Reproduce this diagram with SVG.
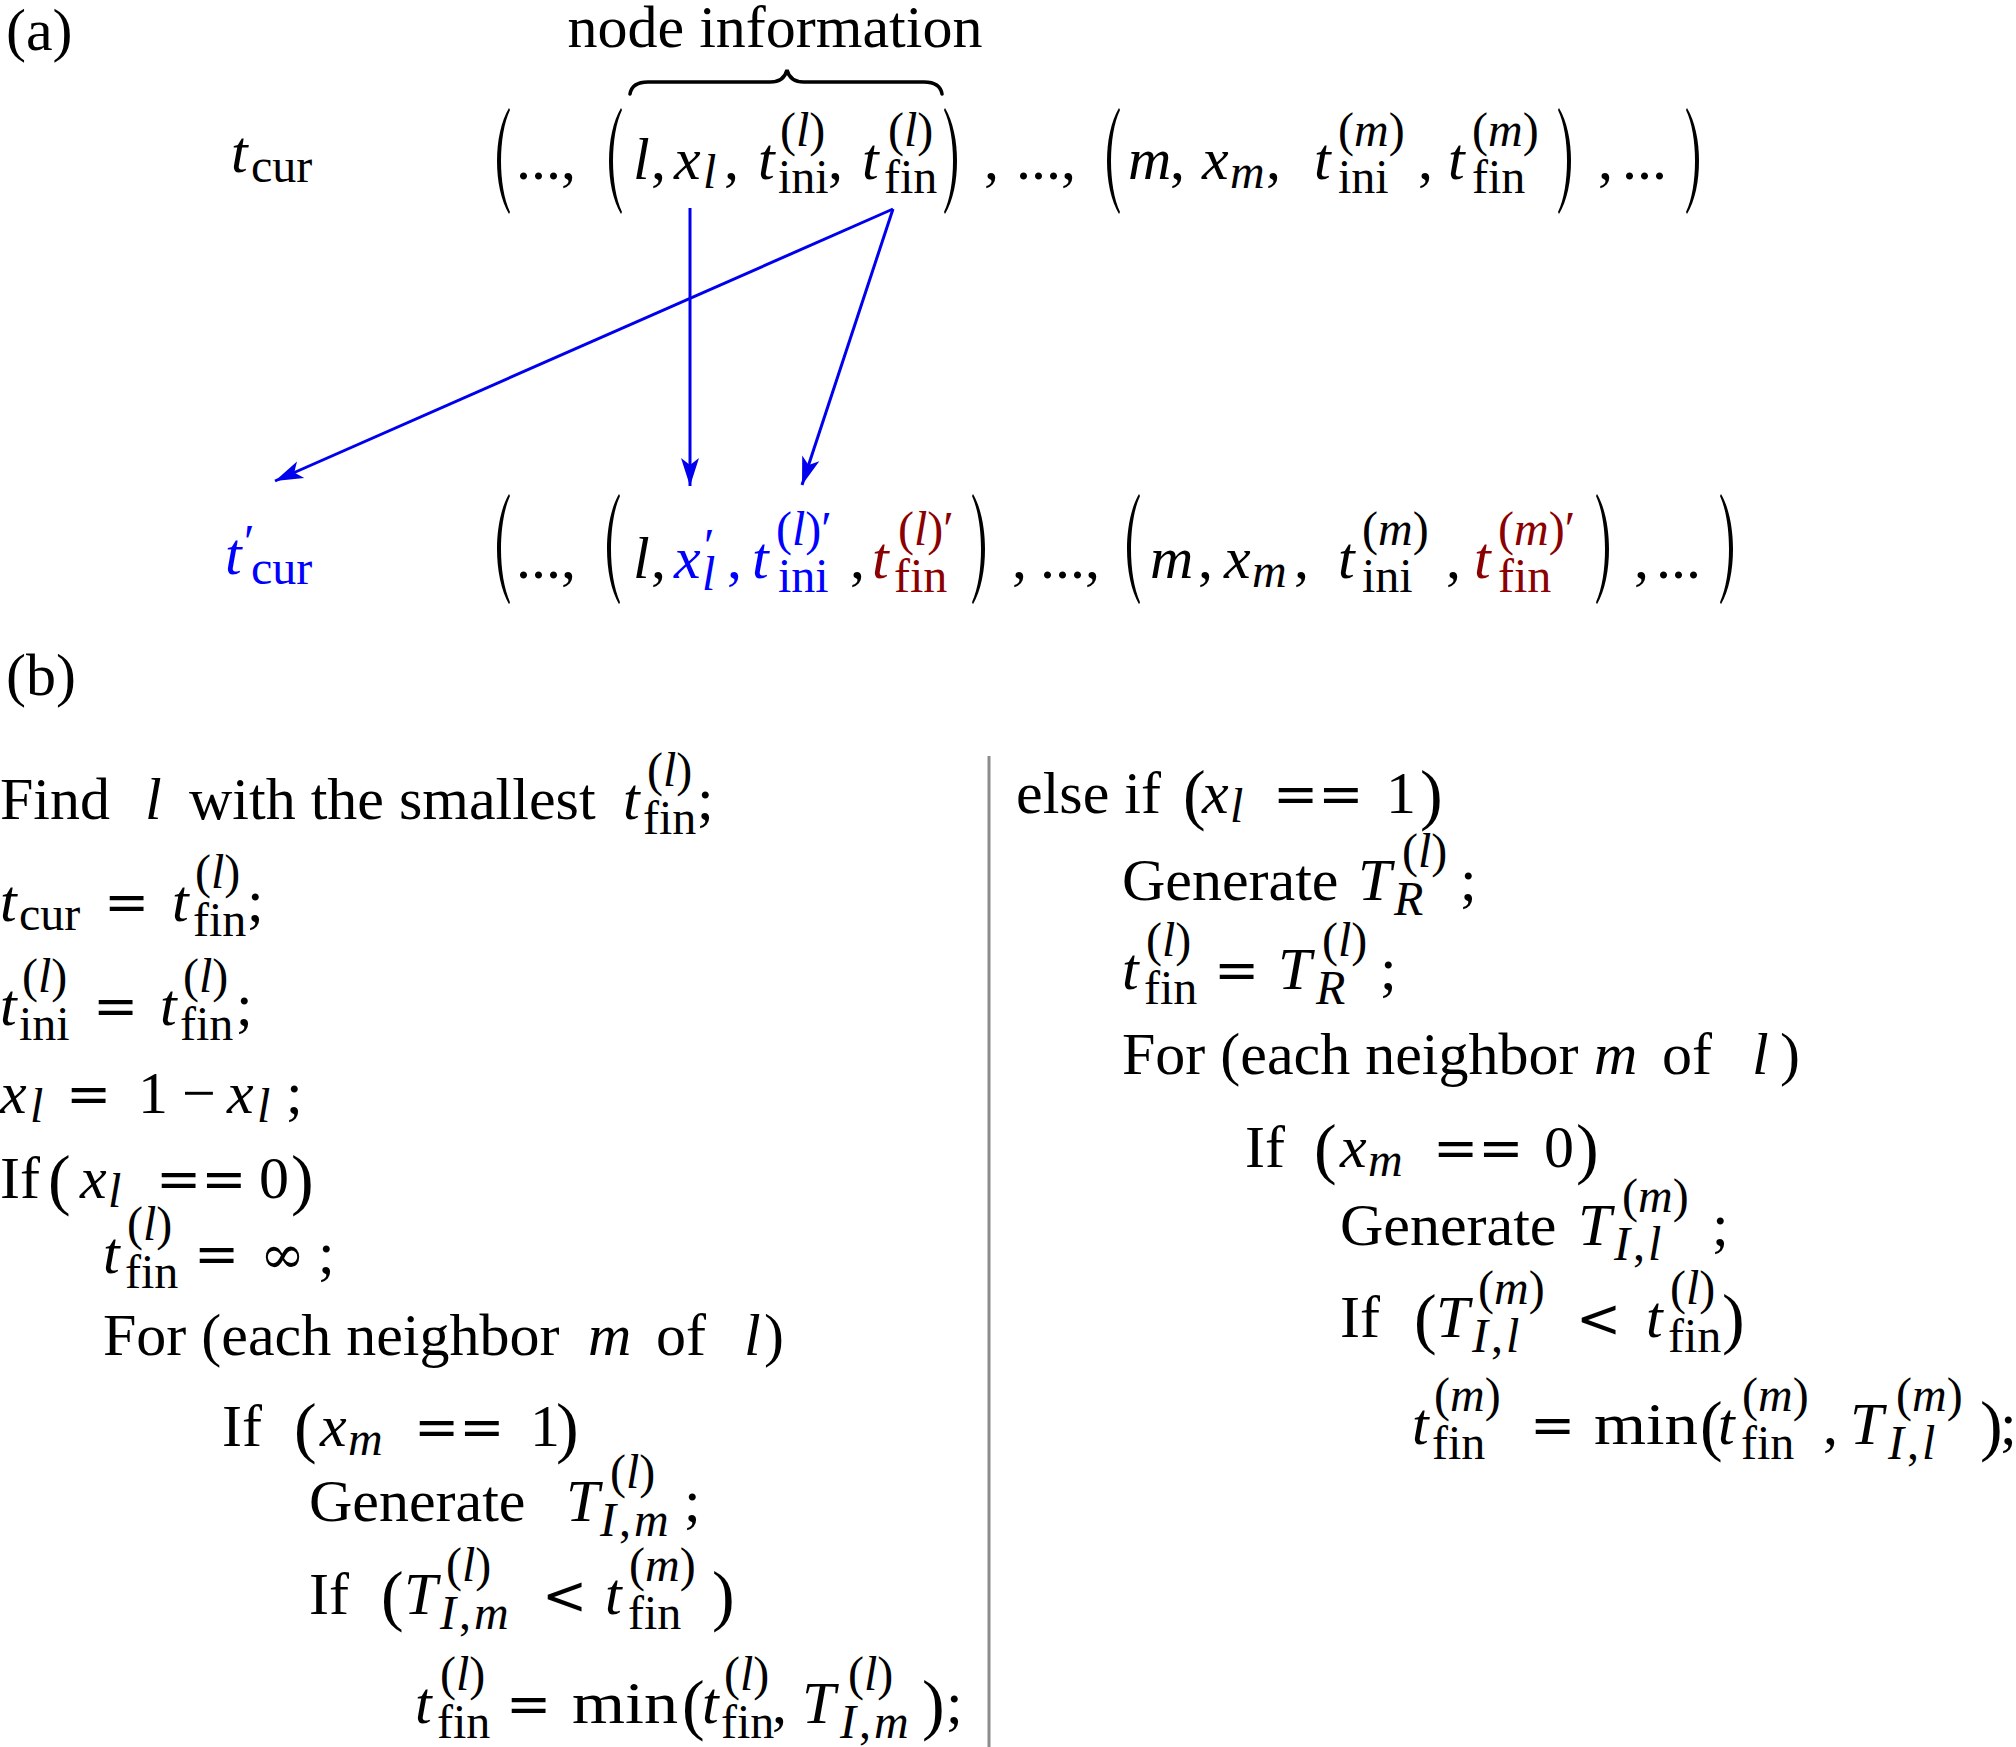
<svg xmlns="http://www.w3.org/2000/svg" xmlns:xlink="http://www.w3.org/1999/xlink" width="2016" height="1747" viewBox="0 0 2016 1747">
<defs>
<style>
.t{font-family:'Liberation Serif','Times New Roman',serif;font-size:60px;fill:#000}
.i{font-style:italic}
.n{font-style:normal}
.s{font-size:48px}
.p{font-size:68px}
.o{font-family:'DejaVu Serif',serif;font-size:54px}
.b{fill:#0000ff}
.r{fill:#8b0000}
.w{letter-spacing:3px}
.arrow{stroke:#0000ee;stroke-width:3;fill:none}
</style>
<path id="lp" d="M17,0 C1,26 1,80 17,106 L18,104 C6,79 6,27 18,2 Z" fill="#000"/>
<path id="rp" d="M1,0 C17,26 17,80 1,106 L0,104 C12,79 12,27 0,2 Z" fill="#000"/>
<marker id="ah" markerUnits="userSpaceOnUse" markerWidth="32" markerHeight="22" viewBox="-30 -11 32 22" refX="0" refY="0" orient="auto">
<path d="M0,0 L-28,-9 L-21,0 L-28,9 Z" fill="#0000ee"/>
</marker>
</defs>
<rect width="2016" height="1747" fill="#fff"/>

<g id="panel-a">
<text class="t" x="6" y="50">(a)</text>
<g id="node-info">
<text class="t" x="775" y="47" text-anchor="middle">node information</text>
<path d="M630,94 Q632,82 648,82 L770,82 Q784,82 787,70 Q790,82 804,82 L924,82 Q940,82 942,94" fill="none" stroke="#000" stroke-width="3.5" stroke-linecap="round"/>
</g>

<g id="tcur">
<text class="t i" x="231" y="172">t</text>
<text class="t s" x="251" y="182">cur</text>
</g>

<g id="tuple-old">
<use xlink:href="#lp" x="492" y="108"/>
<text class="t" x="516" y="179">...,</text>
<use xlink:href="#lp" x="604" y="108"/>
<text class="t i" x="633" y="179">l</text>
<text class="t" x="651" y="179">,</text>
<text class="t i" x="674" y="179">x</text>
<text class="t s i" x="703" y="188">l</text>
<text class="t" x="724" y="179">,</text>
<text class="t i" x="758" y="179">t</text>
<text class="t s" x="780" y="146">(<tspan class="i">l</tspan>)</text>
<text class="t s" x="778" y="193">ini</text>
<text class="t" x="828" y="179">,</text>
<text class="t i" x="862" y="179">t</text>
<text class="t s" x="888" y="146">(<tspan class="i">l</tspan>)</text>
<text class="t s" x="884" y="193">fin</text>
<use xlink:href="#rp" x="944" y="108"/>
<text class="t" x="984" y="179">,</text>
<text class="t" x="1016" y="179">...,</text>
<use xlink:href="#lp" x="1102" y="108"/>
<text class="t i" x="1128" y="179">m</text>
<text class="t" x="1170" y="179">,</text>
<text class="t i" x="1202" y="179">x</text>
<text class="t s i" x="1230" y="188">m</text>
<text class="t" x="1266" y="179">,</text>
<text class="t i" x="1314" y="179">t</text>
<text class="t s" x="1338" y="146">(<tspan class="i">m</tspan>)</text>
<text class="t s" x="1338" y="193">ini</text>
<text class="t" x="1418" y="179">,</text>
<text class="t i" x="1448" y="179">t</text>
<text class="t s" x="1472" y="146">(<tspan class="i">m</tspan>)</text>
<text class="t s" x="1472" y="193">fin</text>
<use xlink:href="#rp" x="1558" y="108"/>
<text class="t" x="1598" y="179">,</text>
<text class="t" x="1622" y="179">...</text>
<use xlink:href="#rp" x="1686" y="108"/>
</g>

<g id="tcur-new">
<text class="t i b" x="225" y="574">t</text>
<text class="t s b" x="244" y="558">′</text>
<text class="t s b" x="251" y="584">cur</text>
</g>

<g id="tuple-new">
<use xlink:href="#lp" transform="translate(492,494) scale(1,1.04)"/>
<text class="t" x="516" y="578">...,</text>
<use xlink:href="#lp" transform="translate(602,494) scale(1,1.04)"/>
<text class="t i" x="633" y="578">l</text>
<text class="t" x="651" y="578">,</text>
<text class="t i b" x="674" y="578">x</text>
<text class="t s b" x="704" y="562">′</text>
<text class="t s i b" x="702" y="590">l</text>
<text class="t b" x="727" y="578">,</text>
<text class="t i b" x="752" y="578">t</text>
<text class="t s b" x="776" y="545">(<tspan class="i">l</tspan>)′</text>
<text class="t s b" x="778" y="592">ini</text>
<text class="t" x="850" y="578">,</text>
<text class="t i r" x="872" y="578">t</text>
<text class="t s r" x="898" y="545">(<tspan class="i">l</tspan>)′</text>
<text class="t s r" x="894" y="592">fin</text>
<use xlink:href="#rp" transform="translate(972,494) scale(1,1.04)"/>
<text class="t" x="1012" y="578">,</text>
<text class="t" x="1040" y="578">...,</text>
<use xlink:href="#lp" transform="translate(1122,494) scale(1,1.04)"/>
<text class="t i" x="1150" y="578">m</text>
<text class="t" x="1198" y="578">,</text>
<text class="t i" x="1224" y="578">x</text>
<text class="t s i" x="1252" y="587">m</text>
<text class="t" x="1294" y="578">,</text>
<text class="t i" x="1338" y="578">t</text>
<text class="t s" x="1362" y="545">(<tspan class="i">m</tspan>)</text>
<text class="t s" x="1362" y="592">ini</text>
<text class="t" x="1446" y="578">,</text>
<text class="t i r" x="1474" y="578">t</text>
<text class="t s r" x="1498" y="545">(<tspan class="i">m</tspan>)′</text>
<text class="t s r" x="1498" y="592">fin</text>
<use xlink:href="#rp" transform="translate(1596,494) scale(1,1.04)"/>
<text class="t" x="1634" y="578">,</text>
<text class="t" x="1656" y="578">...</text>
<use xlink:href="#rp" transform="translate(1720,494) scale(1,1.04)"/>
</g>

<g id="connectors">
<line class="arrow" x1="690" y1="208" x2="690" y2="486" marker-end="url(#ah)"/>
<line class="arrow" x1="893" y1="209" x2="275" y2="481" marker-end="url(#ah)"/>
<line class="arrow" x1="893" y1="209" x2="802" y2="485" marker-end="url(#ah)"/>
</g>
</g>

<g id="panel-b">
<text class="t" x="6" y="695">(b)</text>
<line id="divider" x1="989" y1="756" x2="989" y2="1747" stroke="#8c8c8c" stroke-width="3"/>

<g id="left-code">
<g id="l1">
<text class="t" x="0" y="819">Find</text>
<text class="t i" x="145" y="819">l</text>
<text class="t" x="189" y="819">with the smallest</text>
<text class="t i" x="623" y="819">t</text>
<text class="t s" x="647" y="786">(<tspan class="i">l</tspan>)</text>
<text class="t s" x="643" y="834">fin</text>
<text class="t" x="697" y="819">;</text>
</g>
<g id="l2">
<text class="t i" x="0" y="921">t</text>
<text class="t s" x="19" y="930">cur</text>
<text class="t o" x="104" y="921">=</text>
<text class="t i" x="172" y="921">t</text>
<text class="t s" x="195" y="888">(<tspan class="i">l</tspan>)</text>
<text class="t s" x="193" y="936">fin</text>
<text class="t" x="247" y="921">;</text>
</g>
<g id="l3">
<text class="t i" x="0" y="1025">t</text>
<text class="t s" x="22" y="992">(<tspan class="i">l</tspan>)</text>
<text class="t s" x="19" y="1040">ini</text>
<text class="t o" x="93" y="1025">=</text>
<text class="t i" x="160" y="1025">t</text>
<text class="t s" x="183" y="992">(<tspan class="i">l</tspan>)</text>
<text class="t s" x="180" y="1040">fin</text>
<text class="t" x="236" y="1025">;</text>
</g>
<g id="l4">
<text class="t i" x="0" y="1113">x</text>
<text class="t s i" x="30" y="1122">l</text>
<text class="t o" x="66" y="1113">=</text>
<text class="t" x="138" y="1113">1</text>
<text class="t" x="182" y="1113">−</text>
<text class="t i" x="227" y="1113">x</text>
<text class="t s i" x="257" y="1122">l</text>
<text class="t" x="286" y="1113">;</text>
</g>
<g id="l5">
<text class="t" x="0" y="1198">If</text>
<text class="t p" x="48" y="1202">(</text>
<text class="t i" x="80" y="1198">x</text>
<text class="t s i" x="108" y="1207">l</text>
<text class="t o" x="156" y="1198">==</text>
<text class="t" x="259" y="1198">0</text>
<text class="t p" x="291" y="1202">)</text>
</g>
<g id="l6">
<text class="t i" x="103" y="1273">t</text>
<text class="t s" x="127" y="1240">(<tspan class="i">l</tspan>)</text>
<text class="t s" x="125" y="1288">fin</text>
<text class="t o" x="194" y="1273">=</text>
<text class="t o" x="260" y="1273">∞</text>
<text class="t" x="318" y="1273">;</text>
</g>
<g id="l7">
<text class="t" x="103" y="1355">For (each neighbor</text>
<text class="t i" x="588" y="1355">m</text>
<text class="t" x="656" y="1355">of</text>
<text class="t i" x="744" y="1355">l</text>
<text class="t" x="764" y="1355">)</text>
</g>
<g id="l8">
<text class="t" x="222" y="1446">If</text>
<text class="t p" x="294" y="1450">(</text>
<text class="t i" x="320" y="1446">x</text>
<text class="t s i" x="348" y="1455">m</text>
<text class="t o" x="414" y="1446">==</text>
<text class="t" x="530" y="1446">1</text>
<text class="t p" x="556" y="1450">)</text>
</g>
<g id="l9">
<text class="t" x="309" y="1521">Generate</text>
<text class="t i" x="566" y="1521">T</text>
<text class="t s" x="610" y="1488">(<tspan class="i">l</tspan>)</text>
<text class="t s i w" x="600" y="1536">I<tspan class="n">,</tspan>m</text>
<text class="t" x="684" y="1521">;</text>
</g>
<g id="l10">
<text class="t" x="309" y="1614">If</text>
<text class="t p" x="381" y="1618">(</text>
<text class="t i" x="404" y="1614">T</text>
<text class="t s" x="446" y="1581">(<tspan class="i">l</tspan>)</text>
<text class="t s i w" x="440" y="1629">I<tspan class="n">,</tspan>m</text>
<text class="t o" x="542" y="1614">&lt;</text>
<text class="t i" x="605" y="1614">t</text>
<text class="t s" x="629" y="1581">(<tspan class="i">m</tspan>)</text>
<text class="t s" x="628" y="1629">fin</text>
<text class="t p" x="712" y="1618">)</text>
</g>
<g id="l11">
<text class="t i" x="415" y="1723">t</text>
<text class="t s" x="440" y="1690">(<tspan class="i">l</tspan>)</text>
<text class="t s" x="437" y="1738">fin</text>
<text class="t o" x="506" y="1723">=</text>
<text class="t" x="572" y="1723" textLength="106" lengthAdjust="spacingAndGlyphs">min</text>
<text class="t p" x="682" y="1727">(</text>
<text class="t i" x="702" y="1723">t</text>
<text class="t s" x="724" y="1690">(<tspan class="i">l</tspan>)</text>
<text class="t s" x="721" y="1738">fin</text>
<text class="t" x="772" y="1723">,</text>
<text class="t i" x="802" y="1723">T</text>
<text class="t s" x="848" y="1690">(<tspan class="i">l</tspan>)</text>
<text class="t s i w" x="840" y="1738">I<tspan class="n">,</tspan>m</text>
<text class="t p" x="922" y="1727">)</text>
<text class="t" x="946" y="1723">;</text>
</g>
</g>

<g id="right-code">
<g id="r1">
<text class="t" x="1016" y="813">else if</text>
<text class="t p" x="1183" y="817">(</text>
<text class="t i" x="1202" y="813">x</text>
<text class="t s i" x="1230" y="822">l</text>
<text class="t o" x="1273" y="813">==</text>
<text class="t" x="1386" y="813">1</text>
<text class="t p" x="1420" y="817">)</text>
</g>
<g id="r2">
<text class="t" x="1122" y="900">Generate</text>
<text class="t i" x="1358" y="900">T</text>
<text class="t s" x="1402" y="867">(<tspan class="i">l</tspan>)</text>
<text class="t s i" x="1394" y="915">R</text>
<text class="t" x="1460" y="900">;</text>
</g>
<g id="r3">
<text class="t i" x="1122" y="989">t</text>
<text class="t s" x="1146" y="956">(<tspan class="i">l</tspan>)</text>
<text class="t s" x="1144" y="1004">fin</text>
<text class="t o" x="1214" y="989">=</text>
<text class="t i" x="1278" y="989">T</text>
<text class="t s" x="1322" y="956">(<tspan class="i">l</tspan>)</text>
<text class="t s i" x="1316" y="1004">R</text>
<text class="t" x="1380" y="989">;</text>
</g>
<g id="r4">
<text class="t" x="1122" y="1074">For (each neighbor</text>
<text class="t i" x="1594" y="1074">m</text>
<text class="t" x="1662" y="1074">of</text>
<text class="t i" x="1752" y="1074">l</text>
<text class="t" x="1780" y="1074">)</text>
</g>
<g id="r5">
<text class="t" x="1245" y="1167">If</text>
<text class="t p" x="1314" y="1171">(</text>
<text class="t i" x="1340" y="1167">x</text>
<text class="t s i" x="1368" y="1176">m</text>
<text class="t o" x="1433" y="1167">==</text>
<text class="t" x="1544" y="1167">0</text>
<text class="t p" x="1576" y="1171">)</text>
</g>
<g id="r6">
<text class="t" x="1340" y="1245">Generate</text>
<text class="t i" x="1578" y="1245">T</text>
<text class="t s" x="1622" y="1212">(<tspan class="i">m</tspan>)</text>
<text class="t s i w" x="1614" y="1260">I<tspan class="n">,</tspan>l</text>
<text class="t" x="1712" y="1245">;</text>
</g>
<g id="r7">
<text class="t" x="1340" y="1337">If</text>
<text class="t p" x="1414" y="1341">(</text>
<text class="t i" x="1436" y="1337">T</text>
<text class="t s" x="1478" y="1304">(<tspan class="i">m</tspan>)</text>
<text class="t s i w" x="1472" y="1352">I<tspan class="n">,</tspan>l</text>
<text class="t o" x="1576" y="1337">&lt;</text>
<text class="t i" x="1646" y="1337">t</text>
<text class="t s" x="1670" y="1304">(<tspan class="i">l</tspan>)</text>
<text class="t s" x="1668" y="1352">fin</text>
<text class="t p" x="1722" y="1341">)</text>
</g>
<g id="r8">
<text class="t i" x="1412" y="1444">t</text>
<text class="t s" x="1434" y="1411">(<tspan class="i">m</tspan>)</text>
<text class="t s" x="1432" y="1459">fin</text>
<text class="t o" x="1530" y="1444">=</text>
<text class="t" x="1594" y="1444" textLength="104" lengthAdjust="spacingAndGlyphs">min</text>
<text class="t p" x="1700" y="1448">(</text>
<text class="t i" x="1718" y="1444">t</text>
<text class="t s" x="1742" y="1411">(<tspan class="i">m</tspan>)</text>
<text class="t s" x="1741" y="1459">fin</text>
<text class="t" x="1823" y="1444">,</text>
<text class="t i" x="1850" y="1444">T</text>
<text class="t s" x="1896" y="1411">(<tspan class="i">m</tspan>)</text>
<text class="t s i w" x="1888" y="1459">I<tspan class="n">,</tspan>l</text>
<text class="t p" x="1980" y="1448">)</text>
<text class="t" x="2000" y="1444">;</text>
</g>
</g>
</g>
</svg>
